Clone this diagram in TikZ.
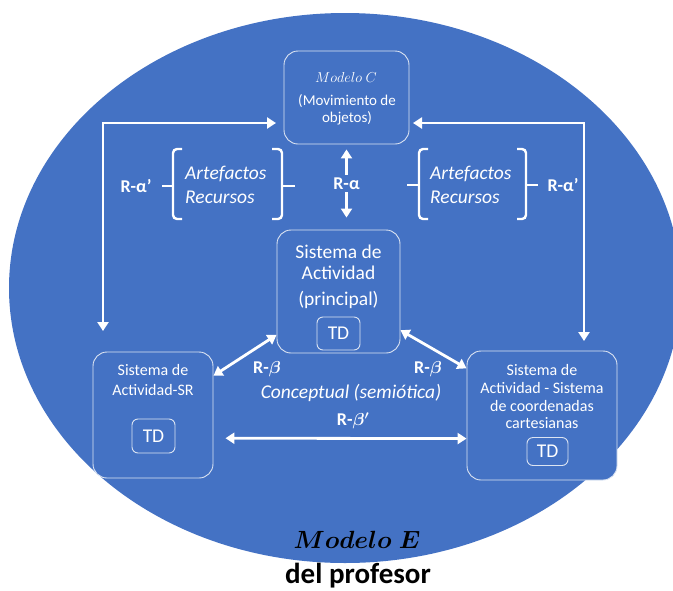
\documentclass[tikz,border=0pt]{standalone}
\usepackage{fontspec}
\setmainfont{Carlito}
\usetikzlibrary{arrows.meta,calc}
\definecolor{officeblue}{HTML}{4472C4}
\definecolor{rimline}{HTML}{DCE4F2}
\newcommand{\bbeta}{\mbox{\boldmath$\beta$}}
\newcommand{\bbetap}{\mbox{\boldmath$\beta'$}}
\newcommand{\modeloE}{\mbox{\boldmath$Modelo\ E$}}

\begin{document}
\begin{tikzpicture}[x=1pt,y=-1pt,
  box/.style={draw=rimline, line width=0.9pt, rounded corners=14pt, fill=officeblue, inner sep=0pt},
  tdbox/.style={draw=rimline, line width=0.9pt, rounded corners=6pt, text=white, inner sep=0pt},
  wtxt/.style={text=white, inner sep=0pt, anchor=center},
  fbig/.style={font=\fontsize{19.5}{22}\selectfont},
  fsmall/.style={font=\fontsize{16}{18}\selectfont},
  fmodel/.style={font=\fontsize{15}{17}\selectfont},
  link/.style={draw=white, line width=2.8pt, {Triangle[length=9pt,width=11pt]}-{Triangle[length=9pt,width=11pt]}},
  brace/.style={draw=white, line width=2.4pt, rounded corners=4pt},
  rlabel/.style={text=white, inner sep=1pt, font=\fontsize{18}{20}\selectfont\bfseries},
]
\useasboundingbox (0,0) rectangle (673,590);
\clip (0,0) rectangle (673,590);

% outer ellipse
\fill[officeblue] (345,288) ellipse [x radius=336, y radius=275];

% boxes
\node[box, minimum width=125pt, minimum height=93pt] (mc) at (346.5,97.5) {};
\node[box, minimum width=123pt, minimum height=123pt] (cb) at (338.5,291.5) {};
\node[box, minimum width=120pt, minimum height=126pt] (lb) at (153,415) {};
\node[box, minimum width=150pt, minimum height=129pt] (rb) at (542,415.5) {};

% TD boxes
\node[tdbox, fbig, minimum width=43pt, minimum height=33pt] (tdc) at (338.5,333.5) {TD};
\node[tdbox, fbig, minimum width=43pt, minimum height=34pt] (tdl) at (153.5,436) {TD};
\node[tdbox, fbig, minimum width=41pt, minimum height=28pt] (tdr) at (547.5,451.5) {TD};

% box texts
\node[wtxt, fmodel] (mct1) at (346,77) {$Modelo\ C$};
\node[wtxt, fmodel] (mct2) at (347,101) {(Movimiento de};
\node[wtxt, fmodel] (mct3) at (347,118) {objetos)};

\node[wtxt, fbig] (cbt1) at (338.5,252) {Sistema de};
\node[wtxt, fbig] (cbt2) at (338.5,273) {Actividad};
\node[wtxt, fbig] (cbt3) at (338.5,300) {(principal)};

\node[wtxt, fsmall] (lbt1) at (153,370) {Sistema de};
\node[wtxt, fsmall] (lbt2) at (153,390) {Actividad-SR};

\node[wtxt, fsmall] (rbt1) at (542,370) {Sistema de};
\node[wtxt, fsmall] (rbt2) at (542,388) {Actividad - Sistema};
\node[wtxt, fsmall] (rbt3) at (542,405.5) {de coordenadas};
\node[wtxt, fsmall] (rbt4) at (542,423) {cartesianas};

% artefacts / resources groups
\node[wtxt, fbig, anchor=west] (art1) at (185,174) {\itshape Artefactos};
\node[wtxt, fbig, anchor=west] (rec1) at (185,197) {\itshape Recursos};
\node[wtxt, fbig, anchor=west] (art2) at (430,174) {\itshape Artefactos};
\node[wtxt, fbig, anchor=west] (rec2) at (430,197) {\itshape Recursos};

\draw[brace] (182,149) -- (173,149) -- (173,219) -- (182,219);
\draw[brace] (162,186) -- (173,186);
\draw[brace] (272,149) -- (282,149) -- (282,219) -- (272,219);
\draw[brace] (282,186) -- (295,186);

\draw[brace] (428,149) -- (419,149) -- (419,219) -- (428,219);
\draw[brace] (407,185) -- (419,185);
\draw[brace] (517,149) -- (526,149) -- (526,219) -- (517,219);
\draw[brace] (526,185) -- (538,185);

\node[rlabel] (ral) at (136,186) {R-α’};
\node[rlabel] (rar) at (563,185) {R-α’};

% free ends of the outer elbow connectors
\coordinate (aL) at (276,123);
\coordinate (bL) at (103,331);
\coordinate (aR) at (413,123);
\coordinate (bR) at (584,341);

\draw[link] (bL) |- (aL);
\draw[link] (aR) -| (bR);

% vertical link between Modelo C and the main system
\draw[link] ([yshift=-5pt]mc.south) -- ([yshift=12pt]mc.south |- cb.north)
  node[midway, fill=officeblue, rlabel, inner sep=3pt] (ra) {R-α};

% diagonal links
\draw[link] (lb.33) -- (cb.215);
\draw[link] (cb.-32) -- (rb.148);

% horizontal link between the two side systems
\draw[link] ([xshift=12pt]lb.-21.8) -- (rb.197.4);

\node[rlabel] (rbl) at (267,369) {R-\bbeta};
\node[rlabel] (rbr) at (428,369) {R-\bbeta};
\node[wtxt, fbig] (conc) at (351,393) {\itshape Conceptual (semiótica)};
\node[rlabel] (rbp) at (353,421) {R-\bbetap};

% title
\node[inner sep=0pt, font=\fontsize{32}{34}\selectfont] (titleE) at (357,540) {\modeloE};
\node[inner sep=0pt, font=\fontsize{29}{31}\selectfont\bfseries] (titleP) at (358,576) {del profesor};
\end{tikzpicture}
\end{document}
